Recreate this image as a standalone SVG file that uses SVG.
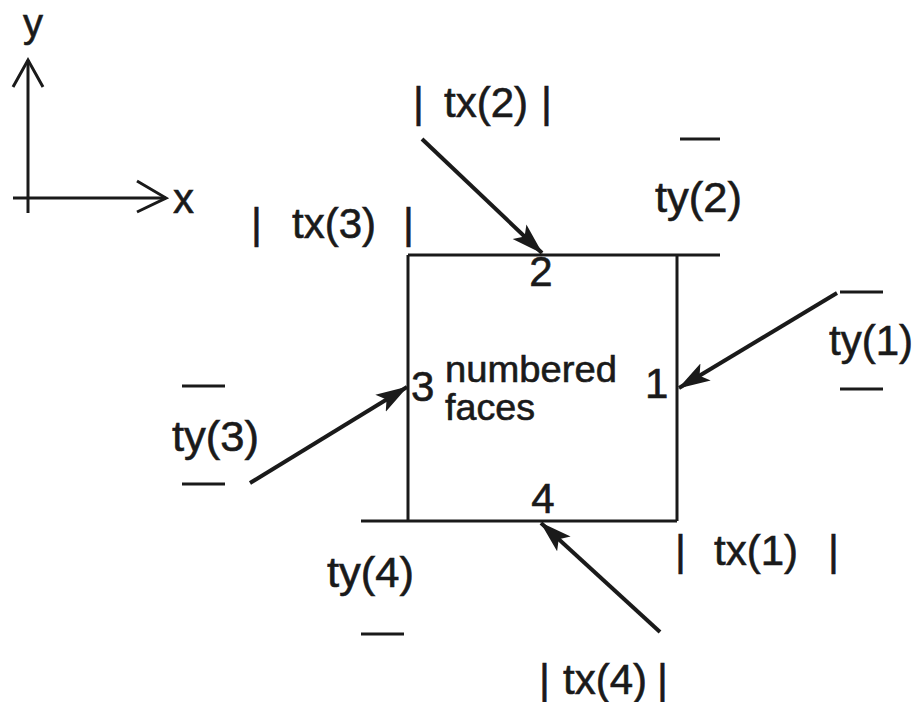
<svg xmlns="http://www.w3.org/2000/svg" width="915" height="702" viewBox="0 0 915 702">
<style>
text{font-family:"Liberation Sans",Arial,sans-serif;fill:#1a1a1a;stroke:#1a1a1a;stroke-width:0.6}
.lbl{font-size:42px}
.small{font-size:36px}
.ln{stroke:#1a1a1a;stroke-width:3;fill:none}
.arr{stroke:#1a1a1a;stroke-width:4;fill:none;marker-end:url(#ah)}
.bar{stroke:#1a1a1a;stroke-width:3}
</style>
<defs>
<marker id="ah" markerUnits="userSpaceOnUse" viewBox="0 0 32 22" markerWidth="32" markerHeight="22" refX="31" refY="11" orient="auto">
<path d="M0,1 L32,11 L0,21 L7,11 Z" fill="#1a1a1a"/>
</marker>
</defs>
<rect width="915" height="702" fill="#ffffff"/>
<g id="axes">
<line class="ln" x1="28" y1="213" x2="28" y2="60"/>
<polyline class="ln" points="13,87 28,60 43,87"/>
<line class="ln" x1="13" y1="198" x2="166" y2="198"/>
<polyline class="ln" points="137,181 166,198 137,212"/>
<text x="23" y="37" style="font-size:40px">y</text>
<text class="lbl" x="173" y="213">x</text>
</g>
<g id="box">
<line class="ln" x1="408" y1="255" x2="720" y2="255"/>
<line class="ln" x1="361" y1="521" x2="677" y2="521"/>
<line class="ln" x1="408" y1="255" x2="408" y2="521"/>
<line class="ln" x1="677" y1="255" x2="677" y2="521"/>
<text class="lbl" x="541" y="286" text-anchor="middle">2</text>
<text class="lbl" x="543" y="513" text-anchor="middle">4</text>
<text class="lbl" x="411" y="401">3</text>
<text class="lbl" x="645" y="398">1</text>
<text class="small" x="445" y="382" textLength="172" lengthAdjust="spacingAndGlyphs">numbered</text>
<text class="small" x="445" y="420" textLength="90" lengthAdjust="spacingAndGlyphs">faces</text>
</g>
<g id="labels">
<text class="lbl" y="117"><tspan x="413">| </tspan><tspan x="444">tx(2)</tspan><tspan x="541">|</tspan></text>
<text class="lbl" y="238"><tspan x="251">| </tspan><tspan x="292">tx(3) </tspan><tspan x="403">|</tspan></text>
<text class="lbl" y="565"><tspan x="675">| </tspan><tspan x="714">tx(1) </tspan><tspan x="828">|</tspan></text>
<text class="lbl" y="694"><tspan x="539">| </tspan><tspan x="563">tx(4)</tspan><tspan x="657">|</tspan></text>
<text class="lbl" x="655" y="212" textLength="87" lengthAdjust="spacingAndGlyphs">ty(2)</text>
<text class="lbl" x="829" y="355" textLength="84" lengthAdjust="spacingAndGlyphs">ty(1)</text>
<text class="lbl" x="172" y="451" textLength="87" lengthAdjust="spacingAndGlyphs">ty(3)</text>
<text class="lbl" x="327" y="587" textLength="87" lengthAdjust="spacingAndGlyphs">ty(4)</text>
<line class="bar" x1="680" y1="139" x2="720" y2="139"/>
<line class="bar" x1="840" y1="292" x2="883" y2="292"/>
<line class="bar" x1="840" y1="389" x2="883" y2="389"/>
<line class="bar" x1="182" y1="386" x2="225" y2="386"/>
<line class="bar" x1="182" y1="484" x2="225" y2="484"/>
<line class="bar" x1="361" y1="634" x2="404" y2="634"/>
</g>
<g id="connectors">
<line class="arr" x1="422" y1="139" x2="542" y2="253"/>
<line class="arr" x1="837" y1="293" x2="679" y2="388"/>
<line class="arr" x1="250" y1="483" x2="407" y2="387"/>
<line class="arr" x1="660" y1="632" x2="541" y2="523"/>
</g>
</svg>
